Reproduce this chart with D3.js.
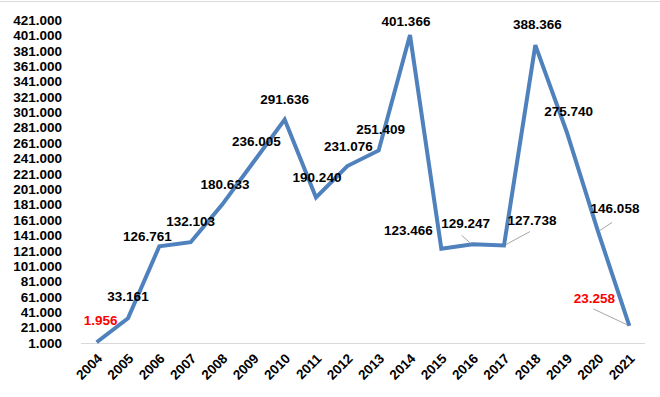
<!DOCTYPE html>
<html>
<head>
<meta charset="utf-8">
<script src="https://cdn.jsdelivr.net/npm/d3@7"></script>
<style>
  body { margin: 0; background: #fff; }
  text { font-family: "Liberation Sans", Arial, sans-serif; font-weight: bold; }
</style>
</head>
<body>
<svg id="chart"></svg>
<script>
// Data
const years = ['2004', '2005', '2006', '2007', '2008', '2009', '2010', '2011', '2012',
  '2013', '2014', '2015', '2016', '2017', '2018', '2019', '2020', '2021'];
const values = [1956, 33161, 126761, 132103, 180633, 236005, 291636, 190240, 231076,
  251409, 401366, 123466, 129247, 127738, 388366, 275740, 146058, 23258];
const yTicks = d3.range(1000, 421001, 20000);
const redYears = ['2004', '2021'];

// Label placement relative to each point (px)
const labelOffsets = [[4, -22], [0, -22], [-12, -10], [0, -21], [3, -21], [3, -21], [0, -20],
  [1, -20], [1, -20], [2, -21], [-4, -14], [-33, -19], [-7, -21], [28, -25], [2, -21],
  [2, -20], [17, -23], [-35, -28]];
// leader line starts, relative to the point
const leaderStarts = { '2016': [-11, -9], '2017': [26, -14], '2020': [14, -9], '2021': [-36, -17] };

const width = 660;
const height = 397;
const plot = { left: 81, right: 645, top: 20, bottom: 343 };
const fontSize = 13.5;

const svg = d3.select('#chart')
  .attr('width', width)
  .attr('height', height);

const locale = d3.formatLocale({ decimal: ',', thousands: '.', grouping: [3], currency: ['', ''] });
const fmt = locale.format(',d');

const x = d3.scalePoint()
  .domain(years)
  .range([plot.left, plot.right])
  .padding(0.5);

const y = d3.scaleLinear()
  .domain([1000, 421000])
  .range([plot.bottom, plot.top]);

// top border
svg.append('line')
  .attr('x1', 0).attr('x2', width)
  .attr('y1', 1.5).attr('y2', 1.5)
  .attr('stroke', '#d9d9d9');

// y axis labels
const yAxis = d3.axisLeft(y)
  .tickValues(yTicks)
  .tickFormat(fmt)
  .tickSize(0)
  .tickPadding(0);

svg.append('g')
  .attr('transform', 'translate(62,0)')
  .call(yAxis)
  .call(g => g.select('.domain').remove())
  .call(g => g.selectAll('text')
    .attr('font-size', fontSize)
    .attr('font-family', '"Liberation Sans", Arial, sans-serif')
    .attr('fill', '#000'));

// baseline
svg.append('line')
  .attr('x1', plot.left).attr('x2', plot.right)
  .attr('y1', y(1000) + 0.5).attr('y2', y(1000) + 0.5)
  .attr('stroke', '#d9d9d9');

// x labels
svg.append('g')
  .selectAll('text')
  .data(years)
  .join('text')
  .attr('transform', d => `translate(${x(d) + 3},356) rotate(-45)`)
  .attr('text-anchor', 'end')
  .attr('dy', '0.35em')
  .attr('font-size', fontSize)
  .attr('fill', '#000')
  .text(d => d);

// line
const line = d3.line()
  .x((d, i) => x(years[i]))
  .y(d => y(d));

svg.append('path')
  .datum(values)
  .attr('fill', 'none')
  .attr('stroke', '#4f81bd')
  .attr('stroke-width', 4)
  .attr('d', line);

// leader lines
svg.append('g')
  .selectAll('line')
  .data(years.filter(yr => leaderStarts[yr]))
  .join('line')
  .attr('x1', yr => x(yr) + leaderStarts[yr][0])
  .attr('y1', yr => y(values[years.indexOf(yr)]) + leaderStarts[yr][1])
  .attr('x2', yr => x(yr) + Math.sign(leaderStarts[yr][0]) * 2)
  .attr('y2', yr => y(values[years.indexOf(yr)]) - 1)
  .attr('stroke', '#a6a6a6')
  .attr('stroke-width', 1);

// data labels
svg.append('g')
  .selectAll('text')
  .data(values)
  .join('text')
  .attr('x', (d, i) => x(years[i]) + labelOffsets[i][0])
  .attr('y', (d, i) => y(d) + labelOffsets[i][1])
  .attr('dy', '0.35em')
  .attr('text-anchor', 'middle')
  .attr('font-size', fontSize)
  .attr('fill', (d, i) => redYears.includes(years[i]) ? '#ff0000' : '#000')
  .text(d => fmt(d));
</script>
</body>
</html>
